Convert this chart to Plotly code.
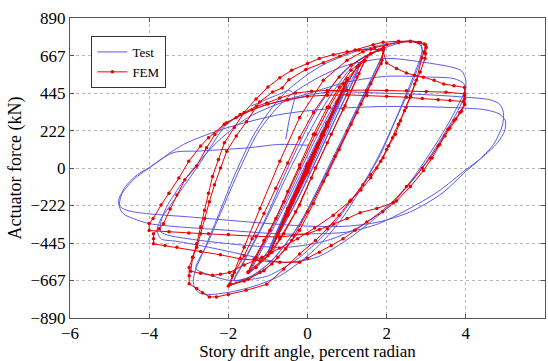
import plotly.graph_objects as go

# Measured hysteresis of the specimen (drift in %, force in kN); None splits off a partial excursion
test_drift = [
    0.0, 0.37, -0.37, 0.37, -0.37, 0.5, -0.5, 0.5, -0.5, 0.75, -0.75, 0.75, -0.75,
    1.0, 0.0, -1.0, 0.0, 1.0, 0.0, -1.0,
    -0.5, 0.3, 0.9, 1.2, 1.35, 1.2, 0.6, -0.2, -0.9, -1.25, -1.45,
    -1.3, -0.6, 0.2, 0.8, 1.2, 1.35, 1.15, 0.5, -0.3, -1.0, -1.3, -1.45,
    -1.3, -0.6, 0.2, 0.9, 1.4, 1.7, 1.95, 1.85, 1.3, 0.6, -0.2, -0.9, -1.4, -1.85,
    -1.7, -1.1, -0.3, 0.5, 1.2, 1.6, 1.95, 1.8, 1.2, 0.5, -0.3, -1.0, -1.5, -1.85,
    -1.65, -1.1, -0.5, 0.2, 0.9, 1.5, 2.1, 2.6, 2.85, 2.9,
    2.7, 2.3, 1.9, 1.5, 0.9, 0.2, -0.7, -1.55, -2.4, -2.74, -2.88, -2.85,
    -2.6, -2.2, -1.8, -1.3, -0.6, 0.3, 1.2, 2.0, 2.6, 2.85, 2.9,
    2.65, 2.2, 1.8, 1.3, 0.6, -0.2, -1.0, -1.6, -1.97, -2.4, -2.82, -2.78,
    -2.55, -2.2, -1.7, -1.2, -0.5, 0.3, 1.0, 2.0, 3.0, 3.7, 3.9, 4.0, 3.98,
    3.8, 3.5, 3.1, 2.6, 1.92, 1.08, 0.24, -0.6, -1.5, -2.5, -3.3, -3.7, -3.8,
    -3.7, -3.5, -3.1, -2.8, -2.46, -2.04, -1.37, -0.7, 0.0, 1.0, 2.0, 3.0, 3.7, 3.95, 3.98,
    3.8, 3.5, 3.1, 2.6, 2.0, 1.3, 0.5, -0.5, -1.5, -2.7, -3.5, -3.7, -3.72,
    -3.6, -3.2, -2.8, -2.3, -1.5, -0.5, 0.5, 1.8, 3.0, 4.0, 4.6, 4.85, 4.95, 4.92,
    4.7, 4.3, 4.0, 3.4, 2.6, 1.8, 1.0, 0.0, -1.5, -3.0, -4.0, -4.5, -4.72, -4.78,
    -4.6, -4.3, -4.02, -3.13, -2.04, -0.7, 0.5, 2.0, 3.5, 4.5, 4.85, 5.0, 4.98,
    4.8, 4.4, 4.0, 3.3, 2.5, 1.8, 1.0, 0.0, -0.7, -2.0, -3.97, -4.4, -4.65, -4.75,
    -4.7, -4.4, -4.0, -3.39, -2.71, -1.5, -0.7, 0.0,
    None, -1.42, -0.8, -0.45, -0.33, -0.45, -0.55,
]
test_force = [
    0, 185, -190, 180, -185, 250, -255, 245, -250, 370, -380, 365, -375,
    490, 30, -500, -40, 485, 20, -500,
    -250, 150, 430, 560, 630, 540, 240, -160, -460, -570, -620,
    -550, -240, 140, 420, 580, 625, 520, 190, -210, -500, -590, -615,
    -540, -220, 170, 470, 640, 690, 715, 650, 380, 40, -330, -550, -640, -670,
    -600, -330, 60, 400, 620, 680, 710, 620, 320, -20, -370, -570, -650, -665,
    -570, -320, 0, 330, 570, 670, 725, 755, 740, 700,
    560, 330, 120, -60, -290, -480, -640, -715, -750, -740, -690, -620,
    -480, -250, -20, 220, 440, 600, 690, 735, 752, 730, 680,
    510, 270, 60, -130, -350, -530, -640, -665, -667, -640, -598, -560,
    -460, -270, 0, 230, 420, 540, 610, 650, 625, 595, 575, 520, 460,
    370, 240, 90, -80, -255, -412, -529, -560, -520, -470, -435, -420, -370,
    -300, -234, -100, 0, 120, 258, 347, 396, 440, 510, 544, 540, 530, 500, 440,
    340, 220, 70, -90, -230, -350, -430, -470, -460, -430, -400, -380, -340,
    -250, -100, 20, 150, 300, 400, 450, 445, 435, 420, 405, 380, 330, 250,
    140, 40, -20, -150, -260, -320, -345, -345, -320, -290, -272, -255, -232, -200,
    -110, -40, 0, 140, 238, 317, 350, 365, 360, 345, 320, 280, 220,
    150, 60, -10, -140, -250, -330, -380, -391, -391, -370, -331, -300, -272, -230,
    -160, -70, 0, 91, 101, 120, 140, 135,
    None, 368, 430, 460, 430, 300, 170,
]

# Finite element prediction (drift in %, force in kN)
fem_drift = [
    0, 0.375, 0, -0.375, 0, 0.375, 0, -0.375, 0, 0.375, 0, -0.375,
    0, 0.25, 0.5, 0.25, 0, -0.25, -0.5, -0.25, 0, 0.25, 0.5, 0.25, 0, -0.25, -0.5,
    -0.4, 0, 0.4, 0.75, 0.4, 0, -0.4, -0.75, -0.4, 0, 0.4, 0.75, 0.35, 0, -0.35, -0.75,
    -0.5, 0, 0.5, 1.0, 0.5, 0, -0.5, -0.95, -0.5, 0, 0.5, 1.0, 0.5, 0, -0.5, -0.95,
    -0.5, 0.0, 0.5, 0.9, 1.25, 1.45, 1.3, 0.95, 0.6, 0.2, -0.2, -0.6, -0.9, -1.3, -1.5,
    -1.3, -0.95, -0.6, -0.2, 0.2, 0.55, 0.9, 1.3, 1.45, 1.25, 0.9, 0.5, 0.1, -0.3, -0.7, -1.0, -1.5,
    -1.35, -1.1, -0.8, -0.5, -0.2, 0.15, 0.5, 0.8, 1.1, 1.5, 1.8, 1.92, 1.88, 1.6, 1.35, 1.1,
    0.8, 0.5, 0.15, -0.2, -0.55, -0.9, -1.2, -1.5, -1.95,
    -1.85, -1.6, -1.4, -1.1, -0.8, -0.5, -0.2, 0.15, 0.5, 0.8, 1.1, 1.6, 1.92, 1.86, 1.5, 1.25,
    1.0, 0.7, 0.4, 0.0, -0.4, -0.75, -1.1, -1.6, -2.0,
    -1.9, -1.6, -1.2, -0.7, -0.2, 0.4, 1.0, 1.4, 1.7, 2.0, 2.3, 2.6, 2.8, 2.95, 3.0, 2.98, 2.97,
    2.85, 2.71, 2.6, 2.49, 2.35, 2.22, 2.05, 1.91, 1.75, 1.6, 1.35, 1.07, 0.65, 0.18, -0.25,
    -0.71, -1.15, -1.6, -1.97, -2.2, -2.4, -2.7, -2.95,
    -2.9, -2.8, -2.7, -2.6, -2.48, -2.35, -2.2, -2.04, -1.8, -1.54, -1.21, -0.88, -0.64, -0.47,
    -0.04, 0.4, 0.81, 1.2, 1.66, 1.91, 2.3, 2.6, 2.85, 2.98, 2.95, 2.89,
    2.75, 2.6, 2.45, 2.3, 2.15, 2.0, 1.85, 1.6, 1.4, 1.1, 0.8, 0.5, 0.2, -0.2, -0.6, -1.03,
    -1.55, -2.0, -2.3, -2.48, -2.65, -2.8, -2.99, -2.99, -2.99,
    -2.9, -2.8, -2.7, -2.6, -2.5, -2.4, -2.25, -2.1, -1.85, -1.6, -1.3, -1.0, -0.7, -0.4, 0.0,
    0.3, 0.65, 1.0, 1.3, 1.6, 1.9,
    2.0, 2.25, 2.5, 2.7, 2.93, 3.2, 3.44, 3.7, 3.97, 3.97, 3.97,
    3.89, 3.75, 3.6, 3.47, 3.34, 3.15, 2.93, 2.6, 2.25, 1.9, 1.5, 1.2, 0.9, 0.6, 0.3, 0.0,
    -0.2, -0.7, -1.2, -1.7, -2.2, -2.7, -3.3, -3.6, -3.89, -3.89, -3.89,
    -3.75, -3.64, -3.47, -3.3, -3.1, -2.8, -2.55, -2.34, -2.04, -1.7, -1.29, -1.03, -0.7, -0.3,
    0.1, 0.5, 1.0, 1.5, 2.0, 2.5, 3.0, 3.5, 3.97, 3.97, 3.97,
    3.85, 3.7, 3.55, 3.3, 3.1, 2.9, 2.5, 2.17, 1.75, 1.33, 1.0, 0.66, 0.3, 0.0, -0.35, -0.7,
    -1.3, -2.0, -2.5, -3.0, -3.5, -4.0, -4.0,
    -3.9, -3.7, -3.5, -3.25, -3.0, -2.7, -2.5, -2.1, -1.8, -1.4, -1.0, -0.5, 0.0, 0.5, 1.0,
    1.5, 2.0, 2.5, 2.9, 3.3, 3.6, 3.94,
]
fem_force = [
    0, 205, 10, -195, -15, 200, 10, -200, -10, 195, 15, -205,
    -15, 120, 265, 140, 10, -130, -260, -140, -15, 120, 260, 135, 15, -125, -265,
    -210, -20, 200, 395, 215, 20, -195, -390, -205, -25, 195, 390, 190, 15, -180, -395,
    -270, -25, 250, 530, 270, 25, -240, -505, -265, -30, 245, 525, 265, 20, -250, -500,
    -280, -20, 260, 460, 600, 640, 560, 370, 200, 0, -220, -390, -500, -590, -620,
    -530, -370, -200, 0, 200, 360, 500, 610, 635, 540, 350, 150, -60, -260, -420, -520, -615,
    -540, -430, -300, -140, 20, 200, 360, 480, 580, 660, 700, 715, 640, 500, 380, 260,
    110, -40, -210, -370, -480, -570, -620, -660, -690,
    -620, -520, -420, -270, -120, 30, 180, 330, 450, 540, 610, 680, 705, 620, 450, 330,
    220, 70, -80, -260, -430, -530, -610, -670, -700,
    -640, -470, -240, 40, 300, 520, 640, 690, 715, 732, 745, 750, 745, 735, 715, 680, 650,
    570, 498, 430, 359, 280, 200, 130, 61, 0, -58, -130, -197, -280, -356, -420,
    -475, -530, -575, -620, -630, -637, -625, -612,
    -530, -470, -390, -300, -200, -100, 0, 100, 190, 275, 392, 451, 475, 524,
    584, 625, 663, 700, 732, 746, 752, 752, 745, 732, 690, 653,
    520, 420, 340, 260, 180, 110, 40, -40, -100, -190, -280, -360, -430, -510, -600, -690,
    -726, -750, -765, -765, -740, -715, -687, -640, -590,
    -530, -450, -350, -250, -150, -50, 50, 150, 240, 330, 410, 480, 535, 580, 620,
    650, 672, 690, 700, 705, 700,
    623, 590, 564, 550, 539, 520, 499, 488, 478, 430, 376,
    337, 290, 238, 190, 140, 60, -15, -110, -196, -260, -320, -370, -420, -460, -500, -535,
    -559, -559, -550, -539, -515, -495, -470, -460, -450, -420, -390,
    -360, -331, -244, -160, -70, 12, 120, 199, 268, 317, 366, 386, 415, 445,
    455, 460, 462, 462, 460, 458, 454, 450, 440, 410, 380,
    330, 280, 230, 130, 60, 0, -110, -206, -240, -265, -300, -333, -365, -390, -400, -410,
    -405, -395, -390, -385, -378, -371, -330,
    -300, -220, -150, -60, 40, 130, 180, 260, 300, 345, 380, 405, 425, 432, 434,
    430, 425, 420, 412, 405, 400, 395,
]

assert len(test_drift) == len(test_force)
assert len(fem_drift) == len(fem_force)

serif = "Liberation Serif, Times New Roman, serif"

fig = go.Figure()
fig.add_trace(go.Scatter(
    x=test_drift, y=test_force, mode="lines", name="Test",
    line=dict(color="rgb(90,90,232)", width=1, shape="spline", smoothing=0.8),
))
fig.add_trace(go.Scatter(
    x=fem_drift, y=fem_force, mode="lines+markers", name="FEM",
    line=dict(color="rgb(235,0,0)", width=1),
    marker=dict(color="rgb(235,0,0)", size=3.5, symbol="circle"),
))

axis_common = dict(
    showline=True, linecolor="#555555", linewidth=1, mirror="ticks",
    ticks="inside", ticklen=4, tickcolor="#555555",
    showgrid=True, gridcolor="#b8b8b8", griddash="dot", gridwidth=1,
    zeroline=False, tickfont=dict(family=serif, size=17, color="black"),
)

fig.update_layout(
    width=548, height=361,
    margin=dict(l=70, r=3, t=18, b=43),
    paper_bgcolor="white", plot_bgcolor="white",
    showlegend=True,
    legend=dict(
        x=0.045, y=0.94, xanchor="left", yanchor="top",
        bgcolor="white", bordercolor="#333333", borderwidth=1,
        font=dict(family=serif, size=13, color="black"),
        itemwidth=30, tracegroupgap=0,
    ),
    xaxis=dict(
        range=[-6, 6], tickvals=[-6, -4, -2, 0, 2, 4, 6],
        title=dict(text="Story drift angle, percent radian",
                   font=dict(family=serif, size=17, color="black"), standoff=1),
        **axis_common,
    ),
    yaxis=dict(
        range=[-890, 890], tickvals=[-890, -667, -445, -222, 0, 222, 445, 667, 890],
        title=dict(text="Actuator force (kN)",
                   font=dict(family=serif, size=18, color="black"), standoff=4),
        **axis_common,
    ),
)

fig.write_html("out.html")
